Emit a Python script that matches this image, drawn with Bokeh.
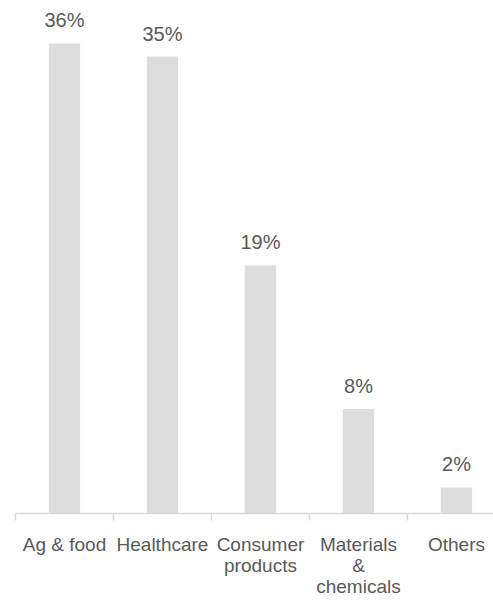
from bokeh.plotting import figure
from bokeh.models import ColumnDataSource, FixedTicker, Range1d
from bokeh.core.properties import value
from bokeh.embed import file_html
from bokeh.resources import INLINE

categories = ["Ag & food", "Healthcare", "Consumer\nproducts", "Materials\n&\nchemicals", "Others"]
values = [36, 35, 19, 8, 2]
labels = ["36%", "35%", "19%", "8%", "2%"]

FONT = "Liberation Sans"
TXT = "#595959"

xs = list(range(len(categories)))
src = ColumnDataSource(dict(x=xs, top=values, label=labels))

p = figure(width=493, height=609, output_backend="svg", toolbar_location=None,
           x_range=Range1d(-0.5, 4.378), y_range=Range1d(0, 38.68),
           min_border_left=15, min_border_right=0, min_border_top=8, min_border_bottom=96)
p.outline_line_color = None
p.xgrid.visible = False
p.ygrid.visible = False
p.yaxis.visible = False

p.vbar(x="x", top="top", width=0.32, bottom=0, source=src, color="#dddddd", line_color=None)
p.text(x="x", y="top", text="label", source=src, text_align="center", text_baseline="alphabetic",
       y_offset=-23, text_font=value(FONT), text_font_size="20px", text_color=TXT)

ax = p.xaxis[0]
ax.ticker = FixedTicker(ticks=xs, minor_ticks=[i - 0.5 for i in range(len(categories) + 1)])
ax.major_label_overrides = {i: c for i, c in enumerate(categories)}
ax.major_tick_out = 0
ax.major_tick_in = 0
ax.minor_tick_out = 7
ax.minor_tick_in = 0
ax.minor_tick_line_color = "#d9d9d9"
ax.minor_tick_line_width = 1.5
ax.axis_line_color = "#d9d9d9"
ax.axis_line_width = 1.5
ax.major_label_text_font = FONT
ax.major_label_text_font_size = "19px"
ax.major_label_text_color = TXT
ax.major_label_text_line_height = 1.0
ax.major_label_standoff = 13

open("out.html", "w").write(file_html(p, INLINE))
